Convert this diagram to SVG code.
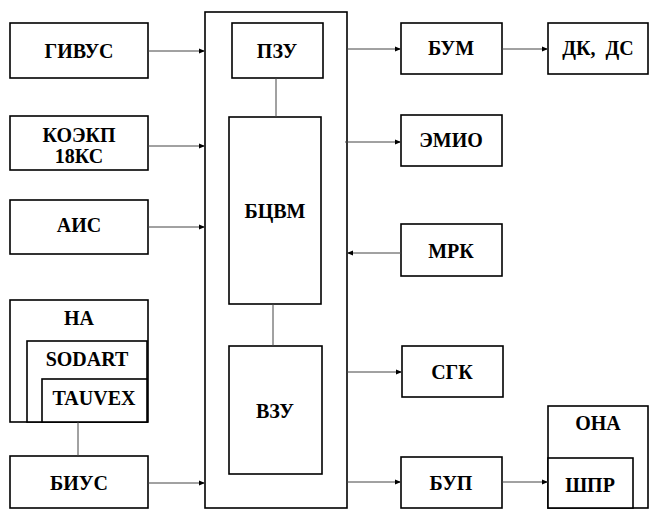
<svg xmlns="http://www.w3.org/2000/svg" width="649" height="510" viewBox="0 0 649 510">
<style>
.b{fill:#fff;stroke:#000;stroke-width:1.6}
.t{font-weight:bold;font-size:20px;text-anchor:middle;fill:#000}
.c{stroke:#444;stroke-width:1;fill:none}
</style>
<defs>
<marker id="a" viewBox="0 0 10 10" refX="10" refY="5" markerWidth="6" markerHeight="6" markerUnits="userSpaceOnUse" orient="auto"><path d="M0,1 L10,5 L0,9 Z" fill="#000"/></marker>
</defs>
<rect width="649" height="510" fill="#fff"/>
<g font-family="Liberation Serif, serif">
<g id="cpu-frame"><rect class="b" x="205" y="12" width="142" height="496"/></g>
<g id="pzu"><rect class="b" x="232" y="23" width="91" height="55"/><text class="t" x="277" y="58">ПЗУ</text></g>
<g id="bcvm"><rect class="b" x="229" y="117" width="92" height="187"/><text class="t" x="275" y="218">БЦВМ</text></g>
<g id="vzu"><rect class="b" x="229" y="346" width="93" height="128"/><text class="t" x="275" y="418">ВЗУ</text></g>
<g id="givus"><rect class="b" x="10" y="23" width="138" height="55"/><text class="t" x="79" y="58">ГИВУС</text></g>
<g id="koekp"><rect class="b" x="10" y="116" width="138" height="54"/><text class="t" x="79" y="142">КОЭКП</text><text class="t" x="79" y="163">18КС</text></g>
<g id="ais"><rect class="b" x="10" y="200" width="138" height="54"/><text class="t" x="79" y="232">АИС</text></g>
<g id="na"><rect class="b" x="10" y="300" width="138" height="122"/><text class="t" x="79" y="325">НА</text></g>
<g id="sodart"><rect class="b" x="27" y="341" width="120" height="81"/><text class="t" x="87" y="366">SODART</text></g>
<g id="tauvex"><rect class="b" x="42" y="379" width="105" height="43"/><text class="t" x="94" y="405">TAUVEX</text></g>
<g id="bius"><rect class="b" x="10" y="456" width="138" height="52"/><text class="t" x="79" y="490">БИУС</text></g>
<g id="bum"><rect class="b" x="401" y="23" width="101" height="51"/><text class="t" x="451" y="55">БУМ</text></g>
<g id="dkds"><rect class="b" x="548" y="23" width="100" height="51"/><text class="t" x="598" y="55" xml:space="preserve">ДК,  ДС</text></g>
<g id="emio"><rect class="b" x="401" y="115" width="101" height="51"/><text class="t" x="451" y="147">ЭМИО</text></g>
<g id="mrk"><rect class="b" x="401" y="224" width="101" height="52"/><text class="t" x="451" y="258">МРК</text></g>
<g id="sgk"><rect class="b" x="402" y="346" width="101" height="51"/><text class="t" x="452" y="379">СГК</text></g>
<g id="bup"><rect class="b" x="401" y="457" width="101" height="51"/><text class="t" x="451" y="490">БУП</text></g>
<g id="ona"><rect class="b" x="548" y="406" width="100" height="102"/><text class="t" x="598" y="430">ОНА</text></g>
<g id="shpr"><rect class="b" x="548" y="458" width="85" height="50"/><text class="t" x="590" y="492">ШПР</text></g>
</g>
<g id="connectors">
<line class="c" x1="148" y1="51" x2="205" y2="51" marker-end="url(#a)"/>
<line class="c" x1="148" y1="146" x2="205" y2="146" marker-end="url(#a)"/>
<line class="c" x1="148" y1="227" x2="205" y2="227" marker-end="url(#a)"/>
<line class="c" x1="148" y1="483" x2="205" y2="483" marker-end="url(#a)"/>
<line class="c" x1="276" y1="78" x2="276" y2="117"/>
<line class="c" x1="273" y1="304" x2="273" y2="346"/>
<line class="c" x1="78" y1="422" x2="78" y2="456"/>
<line class="c" x1="347" y1="49" x2="401" y2="49" marker-end="url(#a)"/>
<line class="c" x1="502" y1="49" x2="548" y2="49" marker-end="url(#a)"/>
<line class="c" x1="345" y1="142" x2="401" y2="142" marker-end="url(#a)"/>
<line class="c" x1="401" y1="253" x2="347" y2="253" marker-end="url(#a)"/>
<line class="c" x1="347" y1="372" x2="402" y2="372" marker-end="url(#a)"/>
<line class="c" x1="347" y1="482" x2="401" y2="482" marker-end="url(#a)"/>
<line class="c" x1="502" y1="482" x2="548" y2="482" marker-end="url(#a)"/>
</g>
</svg>
